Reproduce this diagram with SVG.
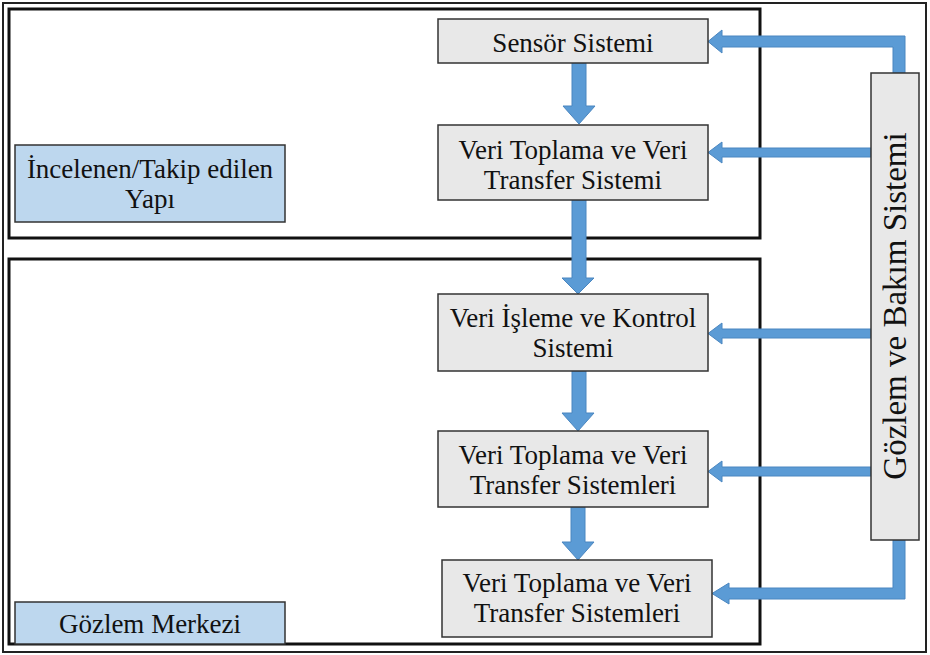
<svg xmlns="http://www.w3.org/2000/svg" width="930" height="655" viewBox="0 0 930 655" font-family="'Liberation Serif', 'DejaVu Serif', serif">
<style>
.frame{fill:none;stroke:#111;stroke-width:3}
.node{fill:#e8e8e8;stroke:#333;stroke-width:1.5}
.blue{fill:#bdd7ee;stroke:#333;stroke-width:1.5}
.arr{fill:#5b9bd5;stroke:#4a86c0;stroke-width:1}
.t{font-family:'Liberation Serif','DejaVu Serif',serif;font-size:27px;fill:#111;text-anchor:middle}
</style>
<rect x="0" y="0" width="930" height="655" fill="#fff"/>
<rect x="3" y="3" width="923" height="649" fill="none" stroke="#222" stroke-width="2"/>
<g id="top-frame"><rect class="frame" x="9" y="9" width="751" height="229"/></g>
<g id="bottom-frame"><rect class="frame" x="9" y="259" width="751" height="385"/></g>

<g id="connectors">
<polygon class="arr" points="572,63 586,63 586,106 595,106 579,124 563,106 572,106"/>
<polygon class="arr" points="572,200 586,200 586,278 594,278 578,294 562,278 572,278"/>
<polygon class="arr" points="572,371 586,371 586,413 594,413 578,431 562,413 572,413"/>
<polygon class="arr" points="571,507 585,507 585,542 594,542 578,560 562,542 571,542"/>
<polygon class="arr" points="905,73 893,73 893,47 722,47 722,53 708,41.5 722,30 722,36 905,36"/>
<polygon class="arr" points="871,148 722,148 722,142 708,152.5 722,163 722,157 871,157"/>
<polygon class="arr" points="871,329 722,329 722,323 708,333.5 722,344 722,338 871,338"/>
<polygon class="arr" points="871,467 722,467 722,461 708,471.5 722,482 722,476 871,476"/>
<polygon class="arr" points="893,540 905,540 905,599 729,599 729,604 712,593.5 729,583 729,588 893,588"/>
</g>

<g id="sensor"><rect class="node" x="438" y="19" width="270" height="44"/><text class="t" x="573" y="52">Sensör Sistemi</text></g>
<g id="veri-toplama-1"><rect class="node" x="438" y="125" width="270" height="75"/><text class="t" x="573" y="159">Veri Toplama ve Veri</text><text class="t" x="573" y="189">Transfer Sistemi</text></g>
<g id="veri-isleme"><rect class="node" x="438" y="294" width="270" height="77"/><text class="t" x="573" y="327">Veri İşleme ve Kontrol</text><text class="t" x="573" y="357">Sistemi</text></g>
<g id="veri-toplama-2"><rect class="node" x="438" y="431" width="270" height="76"/><text class="t" x="573" y="464">Veri Toplama ve Veri</text><text class="t" x="573" y="494">Transfer Sistemleri</text></g>
<g id="veri-toplama-3"><rect class="node" x="442" y="560" width="270" height="77"/><text class="t" x="577" y="592">Veri Toplama ve Veri</text><text class="t" x="577" y="622">Transfer Sistemleri</text></g>
<g id="gozlem-bakim"><rect class="node" x="871" y="73" width="48" height="467"/><text class="t" transform="translate(906,306) rotate(-90)" style="font-size:33px">Gözlem ve Bakım Sistemi</text></g>
<g id="incelenen"><rect class="blue" x="15" y="145" width="270" height="77"/><text class="t" x="150" y="178">İncelenen/Takip edilen</text><text class="t" x="150" y="208">Yapı</text></g>
<g id="gozlem-merkezi"><rect class="blue" x="15" y="602" width="270" height="42"/><text class="t" x="150" y="633">Gözlem Merkezi</text></g>
</svg>
